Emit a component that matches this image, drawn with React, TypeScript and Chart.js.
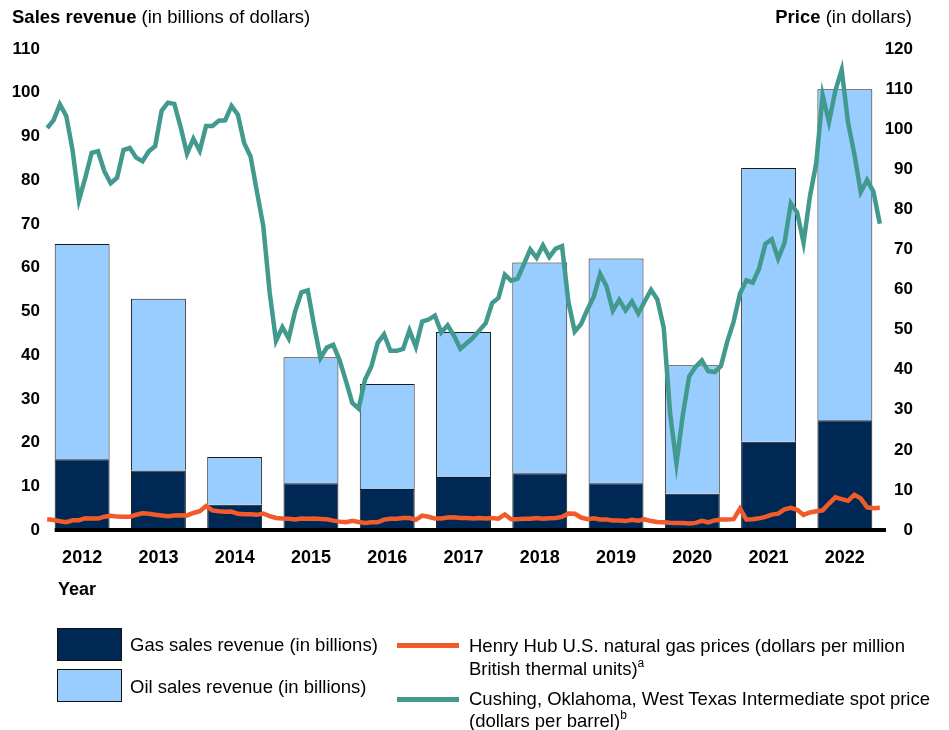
import React, { useEffect, useRef } from "react";
import { Chart, registerables } from "chart.js";

Chart.register(...registerables);

const years = ["2012", "2013", "2014", "2015", "2016", "2017", "2018", "2019", "2020", "2021", "2022"];
const gasRevenue = [16.2, 13.6, 5.8, 10.7, 9.4, 12.1, 13.0, 10.7, 8.3, 20.2, 25.1];
const oilRevenue = [49.2, 39.3, 10.9, 28.8, 24.0, 33.2, 48.2, 51.4, 29.4, 62.6, 75.7];

// Monthly Henry Hub natural gas price, Jan 2012 - Dec 2022
const henryHub = [
  2.67, 2.50, 2.17, 1.95, 2.43, 2.46, 2.95, 2.84, 2.85, 3.32, 3.54, 3.34,
  3.33, 3.33, 3.81, 4.17, 4.04, 3.83, 3.62, 3.43, 3.62, 3.68, 3.64, 4.24,
  4.71, 6.00, 4.90, 4.66, 4.58, 4.59, 4.05, 3.91, 3.92, 3.78, 4.12, 3.48,
  2.99, 2.87, 2.83, 2.61, 2.85, 2.78, 2.84, 2.77, 2.66, 2.34, 2.09, 1.93,
  2.28, 1.99, 1.73, 1.92, 1.92, 2.59, 2.82, 2.82, 2.99, 2.98, 2.55, 3.59,
  3.30, 2.85, 2.88, 3.10, 3.15, 2.98, 2.98, 2.90, 2.98, 2.88, 3.01, 2.82,
  3.87, 2.67, 2.69, 2.80, 2.80, 2.97, 2.83, 2.96, 3.00, 3.28, 4.09, 4.04,
  3.11, 2.69, 2.95, 2.65, 2.64, 2.40, 2.37, 2.22, 2.56, 2.33, 2.65, 2.22,
  2.02, 1.91, 1.79, 1.74, 1.75, 1.63, 1.77, 2.30, 1.92, 2.39, 2.61, 2.59,
  2.71, 5.35, 2.62, 2.66, 2.91, 3.26, 3.84, 4.07, 5.16, 5.51, 5.05, 3.76,
  4.38, 4.69, 4.90, 6.60, 8.14, 7.70, 7.28, 8.80, 7.88, 5.66, 5.45, 5.53,
];

// Monthly WTI spot price (Cushing, OK), Jan 2012 - Dec 2022
const wti = [
  100.3, 102.2, 106.2, 103.3, 94.7, 82.3, 87.9, 94.1, 94.5, 89.5, 86.5, 87.9,
  94.8, 95.3, 92.9, 92.0, 94.5, 95.8, 104.6, 106.6, 106.3, 100.5, 93.9, 97.6,
  94.6, 100.8, 100.8, 102.1, 102.2, 105.8, 103.6, 96.5, 93.2, 84.4, 75.8, 59.3,
  47.2, 50.6, 47.8, 54.5, 59.3, 59.8, 50.9, 42.9, 45.5, 46.2, 42.4, 37.2,
  31.7, 30.3, 37.5, 40.8, 46.7, 48.8, 44.7, 44.7, 45.2, 49.8, 45.7, 52.0,
  52.5, 53.5, 49.3, 51.1, 48.5, 45.2, 46.6, 48.0, 49.8, 51.6, 56.6, 57.9,
  63.7, 62.2, 62.7, 66.3, 70.0, 67.9, 71.0, 68.1, 70.2, 70.8, 57.0, 49.5,
  51.4, 55.0, 58.2, 63.9, 60.8, 54.7, 57.4, 54.8, 57.0, 54.0, 57.0, 59.9,
  57.5, 50.5, 29.2, 16.6, 28.6, 38.3, 40.7, 42.3, 39.6, 39.4, 40.9, 47.0,
  52.0, 59.0, 62.3, 61.7, 65.2, 71.4, 72.5, 67.7, 71.6, 81.5, 79.2, 71.7,
  83.2, 91.6, 108.5, 101.8, 109.6, 114.8, 101.6, 93.7, 84.3, 87.3, 84.4, 76.4,
];

const leftTicks = [0, 10, 20, 30, 40, 50, 60, 70, 80, 90, 100, 110];
const rightTicks = [0, 10, 20, 30, 40, 50, 60, 70, 80, 90, 100, 110, 120];

const NAVY = "#002855";
const LIGHT = "#99CCFF";
const ORANGE = "#F15A29";
const TEAL = "#429A8F";
const FONT = "Arial, 'Liberation Sans', sans-serif";

const axisLinePlugin = {
  id: "axisLine",
  afterDatasetsDraw(chart: any) {
    const meta = chart.getDatasetMeta(0);
    const first = meta.data[0];
    if (!first) return;
    const { ctx, chartArea, scales } = chart;
    const y0 = scales.y.getPixelForValue(0);
    const left = first.x - first.width / 2;
    ctx.save();
    ctx.strokeStyle = "#000";
    ctx.lineWidth = 4;
    ctx.beginPath();
    ctx.moveTo(left, y0);
    ctx.lineTo(chartArea.right + 3, y0);
    ctx.stroke();
    ctx.restore();
  },
};

export default function App() {
  const canvasRef = useRef<HTMLCanvasElement | null>(null);

  useEffect(() => {
    if (!canvasRef.current) return;
    const barCommon = {
      type: "bar",
      borderColor: "#1a1a1a",
      borderWidth: 1,
      xAxisID: "x",
      yAxisID: "y",
      order: 2,
      grouped: false,
      barPercentage: 0.72,
      categoryPercentage: 1,
    };
    const chart = new Chart(canvasRef.current, {
      type: "bar",
      data: {
        labels: years,
        datasets: [
          {
            ...barCommon,
            label: "Gas sales revenue (in billions)",
            data: gasRevenue,
            backgroundColor: NAVY,
          },
          {
            ...barCommon,
            label: "Oil sales revenue (in billions)",
            data: oilRevenue,
            backgroundColor: LIGHT,
          },
          {
            type: "line",
            label: "Henry Hub",
            data: henryHub.map((v, i) => ({ x: i + 0.5, y: v })),
            borderColor: ORANGE,
            borderWidth: 4.5,
            pointRadius: 0,
            tension: 0,
            xAxisID: "xm",
            yAxisID: "y1",
            order: 1,
          },
          {
            type: "line",
            label: "WTI",
            data: wti.map((v, i) => ({ x: i + 0.5, y: v })),
            borderColor: TEAL,
            borderWidth: 4.5,
            pointRadius: 0,
            tension: 0,
            xAxisID: "xm",
            yAxisID: "y1",
            order: 0,
          },
        ],
      } as any,
      options: {
        responsive: false,
        animation: false,
        events: [],
        layout: { padding: { top: 49, bottom: 160, left: 0, right: 36 } },
        plugins: { legend: { display: false }, tooltip: { enabled: false } },
        scales: {
          x: {
            type: "category",
            stacked: true,
            offset: true,
            grid: { display: false, drawTicks: false },
            border: { display: false },
            ticks: {
              color: "#000",
              font: { family: FONT, size: 18, weight: "bold" },
              padding: 17,
              maxRotation: 0,
              autoSkip: false,
            },
            afterFit: (s: any) => {
              s.height = 40;
            },
          },
          xm: {
            type: "linear",
            display: false,
            min: 0,
            max: years.length * 12,
            offset: false,
          },
          y: {
            type: "linear",
            position: "left",
            stacked: true,
            min: 0,
            max: 110,
            grid: { display: false, drawTicks: false },
            border: { display: false },
            afterBuildTicks: (s: any) => {
              s.ticks = leftTicks.map((v) => ({ value: v }));
            },
            ticks: {
              color: "#000",
              font: { family: FONT, size: 17, weight: "bold" },
              padding: 4,
            },
            afterFit: (s: any) => {
              s.width = 44;
            },
          },
          y1: {
            type: "linear",
            position: "right",
            min: 0,
            max: 120,
            grid: { display: false, drawTicks: false },
            border: { display: false },
            afterBuildTicks: (s: any) => {
              s.ticks = rightTicks.map((v) => ({ value: v }));
            },
            ticks: {
              color: "#000",
              font: { family: FONT, size: 17, weight: "bold" },
              padding: 0,
              crossAlign: "far",
            },
            afterFit: (s: any) => {
              s.width = 30;
            },
          },
        },
      } as any,
      plugins: [axisLinePlugin],
    });
    return () => chart.destroy();
  }, []);

  const text: React.CSSProperties = {
    position: "absolute",
    fontFamily: FONT,
    fontSize: 18.5,
    lineHeight: "22px",
    color: "#000",
    whiteSpace: "nowrap",
  };
  const sup: React.CSSProperties = { fontSize: 12, position: "relative", top: -8, lineHeight: 0 };

  return (
    <div style={{ position: "fixed", left: 0, top: 0, width: 949, height: 730, background: "#fff" }}>
      <canvas ref={canvasRef} width={949} height={730} style={{ position: "absolute", left: 0, top: 0 }} />
      <div style={{ ...text, left: 12, top: 6 }}>
        <b>Sales revenue</b> (in billions of dollars)
      </div>
      <div style={{ ...text, right: 37, top: 6 }}>
        <b>Price</b> (in dollars)
      </div>
      <div style={{ ...text, left: 58, top: 578, fontSize: 18, fontWeight: "bold" }}>Year</div>

      <div style={{ position: "absolute", left: 57, top: 628, width: 63, height: 31, background: NAVY, border: "1px solid #111" }} />
      <div style={{ position: "absolute", left: 57, top: 669, width: 63, height: 31, background: LIGHT, border: "1px solid #111" }} />
      <div style={{ ...text, left: 130, top: 634 }}>Gas sales revenue (in billions)</div>
      <div style={{ ...text, left: 130, top: 676 }}>Oil sales revenue (in billions)</div>

      <div style={{ position: "absolute", left: 397, top: 643, width: 62, height: 5, background: ORANGE }} />
      <div style={{ position: "absolute", left: 397, top: 697, width: 62, height: 5, background: TEAL }} />
      <div style={{ ...text, left: 469, top: 634, lineHeight: "23px" }}>
        Henry Hub U.S. natural gas prices (dollars per million
        <br />
        British thermal units)<span style={sup}>a</span>
      </div>
      <div style={{ ...text, left: 469, top: 688, lineHeight: "22px" }}>
        Cushing, Oklahoma, West Texas Intermediate spot price
        <br />
        (dollars per barrel)<span style={sup}>b</span>
      </div>
    </div>
  );
}
